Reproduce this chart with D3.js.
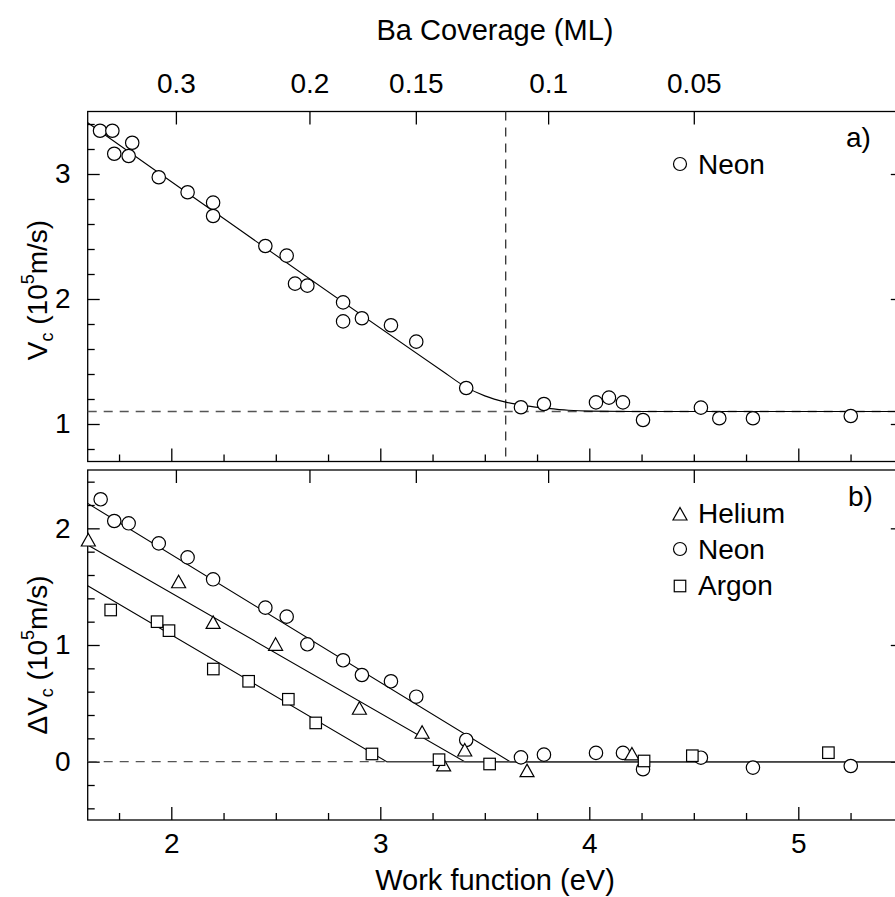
<!DOCTYPE html>
<html><head><meta charset="utf-8">
<script src="https://cdn.jsdelivr.net/npm/d3@7"></script>
<style>
body{margin:0;background:#fff}
text{font-family:"Liberation Sans",Arial,Helvetica,sans-serif;fill:#000}
</style>
</head><body><svg id="c" width="895" height="897"></svg>
<script>
// ---------- data ----------
const xTicks = [2, 3, 4, 5];
const xMinor = [1.75, 2.25, 2.5, 2.75, 3.25, 3.5, 3.75, 4.25, 4.5, 4.75, 5.25];
const coverageLabels = ["0.3", "0.2", "0.15", "0.1", "0.05"];
const coverageWF = [2.022, 2.661, 3.170, 3.803, 4.500];
const yTicksA = [1, 2, 3];
const yMinorA = [0.8, 1.2, 1.4, 1.6, 1.8, 2.2, 2.4, 2.6, 2.8, 3.2, 3.4];
const yTicksB = [0, 1, 2];
const yMinorB = [-0.4, -0.2, 0.2, 0.4, 0.6, 0.8, 1.2, 1.4, 1.6, 1.8, 2.2, 2.4];

// panel a : neon critical velocity
const neonA_wf = [1.659, 1.718, 1.813, 1.727, 1.796, 1.940, 2.078, 2.200, 2.200, 2.450, 2.552, 2.592, 2.651, 2.822, 2.822, 2.912, 3.051, 3.172, 3.411, 3.673, 3.783, 4.032, 4.094, 4.161, 4.257, 4.534, 4.622, 4.783, 5.251];
const neonA_v  = [3.346, 3.346, 3.250, 3.162, 3.144, 2.974, 2.854, 2.771, 2.664, 2.424, 2.347, 2.123, 2.107, 1.973, 1.821, 1.846, 1.790, 1.659, 1.288, 1.134, 1.160, 1.173, 1.211, 1.173, 1.032, 1.131, 1.046, 1.046, 1.064];
const fitA_wf = [1.6, 3.3, 3.4, 3.5, 3.6, 3.7, 3.8, 3.9, 4.0, 4.2, 5.5];
const fitA_v  = [3.41, 1.42, 1.305, 1.225, 1.175, 1.145, 1.125, 1.11, 1.103, 1.1, 1.1];
const vcBase = 1.1;
const wfCrit = 3.6;

// panel b : delta Vc
const neonB_wf = [1.662, 1.727, 1.796, 1.940, 2.078, 2.200, 2.450, 2.552, 2.651, 2.822, 2.912, 3.051, 3.172, 3.411, 3.673, 3.783, 4.032, 4.161, 4.257, 4.534, 4.783, 5.251];
const neonB_dv = [2.249, 2.063, 2.043, 1.871, 1.751, 1.563, 1.320, 1.243, 1.006, 0.869, 0.743, 0.689, 0.557, 0.186, 0.037, 0.060, 0.075, 0.075, -0.065, 0.034, -0.051, -0.037];
const heliumB_wf = [1.603, 2.035, 2.200, 2.499, 2.900, 3.200, 3.404, 3.303, 3.702, 4.204];
const heliumB_dv = [1.900, 1.542, 1.194, 1.006, 0.458, 0.252, 0.100, -0.028, -0.077, 0.066];
const argonB_wf = [1.710, 1.932, 1.989, 2.201, 2.370, 2.560, 2.691, 2.960, 3.281, 3.523, 4.262, 4.493, 5.144];
const argonB_dv = [1.300, 1.200, 1.123, 0.794, 0.689, 0.535, 0.332, 0.066, 0.017, -0.020, 0.006, 0.051, 0.077];
const fitNeon_wf = [1.6, 3.621, 5.5],   fitNeon_dv = [2.214, 0, 0];
const fitHelium_wf = [1.6, 3.404, 5.5], fitHelium_dv = [1.857, 0, 0];
const fitArgon_wf = [1.6, 3.031, 5.5],  fitArgon_dv = [1.508, 0, 0];

// ---------- drawing ----------
const svg = d3.select("#c");
const X0 = 87.7, X1 = 902.8;
const x = d3.scaleLinear().domain([1.6, 5.5]).range([X0, X1]);
const yA = d3.scaleLinear().domain([0.7, 3.5]).range([461.5, 111.5]);
const yB = d3.scaleLinear().domain([-0.5, 2.5]).range([820, 470]);
const FS = 28;

function panel(y, yTicks, yMinor, showTopLabels) {
  const [yb, yt] = y.range();
  const g = svg.append("g");
  g.append("rect").attr("x", X0).attr("y", yt).attr("width", X1 - X0).attr("height", yb - yt)
    .attr("fill", "none").attr("stroke", "#000").attr("stroke-width", 1.3);
  const gb = g.append("g").attr("transform", `translate(0,${yb})`);
  gb.call(d3.axisBottom(x).tickValues(xTicks).tickSize(-13).tickPadding(13)
     .tickFormat(showTopLabels ? () => "" : d3.format("d")));
  gb.append("g").call(d3.axisBottom(x).tickValues(xMinor).tickSize(-7).tickFormat(""));
  const gt = g.append("g").attr("transform", `translate(0,${yt})`);
  gt.call(d3.axisTop(x).tickValues(coverageWF).tickSize(-13).tickPadding(19)
     .tickFormat((d, i) => showTopLabels ? coverageLabels[i] : ""));
  const gl = g.append("g").attr("transform", `translate(${X0},0)`);
  gl.call(d3.axisLeft(y).tickValues(yTicks).tickSize(-12).tickPadding(17).tickFormat(d3.format("d")));
  gl.append("g").call(d3.axisLeft(y).tickValues(yMinor).tickSize(-7).tickFormat(""));
  const gr = g.append("g").attr("transform", `translate(${X1},0)`);
  gr.call(d3.axisRight(y).tickValues(yTicks).tickSize(-12).tickFormat(""));
  g.selectAll(".domain").remove();
  g.selectAll(".tick line").attr("stroke", "#000").attr("stroke-width", 1.3);
  g.selectAll(".tick text").attr("font-size", FS).attr("font-family", '"Liberation Sans",Arial,sans-serif').attr("fill", "#000");
  return g;
}

const gA = panel(yA, yTicksA, yMinorA, true);
const gB = panel(yB, yTicksB, yMinorB, false);

const line = (y) => d3.line().x(d => x(d[0])).y(d => y(d[1]));
const zip = (a, b) => a.map((v, i) => [v, b[i]]);

svg.append("line").attr("x1", X0).attr("x2", X1).attr("y1", yA(vcBase)).attr("y2", yA(vcBase))
  .attr("stroke", "#555").attr("stroke-width", 1.3).attr("stroke-dasharray", "9,7");
svg.append("line").attr("x1", x(wfCrit)).attr("x2", x(wfCrit)).attr("y1", yA(3.5)).attr("y2", yA(0.7))
  .attr("stroke", "#333").attr("stroke-width", 1.3).attr("stroke-dasharray", "9,7");
svg.append("path").datum(zip(fitA_wf, fitA_v)).attr("fill", "none").attr("stroke", "#000").attr("stroke-width", 1.1)
  .attr("d", line(yA).curve(d3.curveMonotoneX));

svg.append("line").attr("x1", X0).attr("x2", x(3.03)).attr("y1", yB(0)).attr("y2", yB(0))
  .attr("stroke", "#555").attr("stroke-width", 1.3).attr("stroke-dasharray", "9,7");
[[fitNeon_wf, fitNeon_dv], [fitHelium_wf, fitHelium_dv], [fitArgon_wf, fitArgon_dv]].forEach(([a, b]) => {
  svg.append("path").datum(zip(a, b)).attr("fill", "none").attr("stroke", "#000").attr("stroke-width", 1.1)
    .attr("d", line(yB));
});
svg.append("line").attr("x1", x(3.03)).attr("x2", X1).attr("y1", yB(0)).attr("y2", yB(0))
  .attr("stroke", "#444").attr("stroke-width", 1.3);

const R = 6.7;
function circles(xs, ys, y) {
  svg.append("g").selectAll("circle").data(zip(xs, ys)).join("circle")
    .attr("cx", d => x(d[0])).attr("cy", d => y(d[1])).attr("r", R)
    .attr("fill", "#fff").attr("stroke", "#000").attr("stroke-width", 1.2);
}
const triPath = (cx, cy) => `M${cx},${cy - 6.5}L${cx + 7},${cy + 6}L${cx - 7},${cy + 6}Z`;
function triangles(xs, ys, y) {
  svg.append("g").selectAll("path").data(zip(xs, ys)).join("path")
    .attr("d", d => triPath(x(d[0]), y(d[1])))
    .attr("fill", "#fff").attr("stroke", "#000").attr("stroke-width", 1.2);
}
const S = 11.5;
function squares(xs, ys, y) {
  svg.append("g").selectAll("rect").data(zip(xs, ys)).join("rect")
    .attr("x", d => x(d[0]) - S / 2).attr("y", d => y(d[1]) - S / 2).attr("width", S).attr("height", S)
    .attr("fill", "#fff").attr("stroke", "#000").attr("stroke-width", 1.2);
}
circles(neonA_wf, neonA_v, yA);
circles(neonB_wf, neonB_dv, yB);
triangles(heliumB_wf, heliumB_dv, yB);
squares(argonB_wf, argonB_dv, yB);

const LF = 28;
svg.append("circle").attr("cx", 680).attr("cy", 164).attr("r", 6.5).attr("fill", "#fff").attr("stroke", "#000").attr("stroke-width", 1.2);
svg.append("text").attr("x", 698).attr("y", 174).attr("font-size", LF).text("Neon");
svg.append("path").attr("d", triPath(680, 514)).attr("fill", "#fff").attr("stroke", "#000").attr("stroke-width", 1.2);
svg.append("text").attr("x", 698).attr("y", 523).attr("font-size", LF).text("Helium");
svg.append("circle").attr("cx", 680).attr("cy", 549).attr("r", 6.5).attr("fill", "#fff").attr("stroke", "#000").attr("stroke-width", 1.2);
svg.append("text").attr("x", 698).attr("y", 559).attr("font-size", LF).text("Neon");
svg.append("rect").attr("x", 680 - S / 2).attr("y", 586 - S / 2).attr("width", S).attr("height", S).attr("fill", "#fff").attr("stroke", "#000").attr("stroke-width", 1.2);
svg.append("text").attr("x", 698).attr("y", 595).attr("font-size", LF).text("Argon");
svg.append("text").attr("x", 846).attr("y", 147).attr("font-size", LF).text("a)");
svg.append("text").attr("x", 848).attr("y", 506).attr("font-size", LF).text("b)");

svg.append("text").attr("x", 495).attr("y", 40).attr("text-anchor", "middle").attr("font-size", 29).text("Ba Coverage (ML)");
svg.append("text").attr("x", 495).attr("y", 890).attr("text-anchor", "middle").attr("font-size", 29).text("Work function (eV)");
function yTitle(cy, prefix) {
  const t = svg.append("text").attr("transform", `translate(47,${cy}) rotate(-90)`).attr("text-anchor", "middle").attr("font-size", FS);
  t.append("tspan").text(prefix + "V");
  t.append("tspan").attr("dy", 6).attr("font-size", 18).text("c");
  t.append("tspan").attr("dy", -6).text(" (10");
  t.append("tspan").attr("dy", -13).attr("font-size", 18).text("5");
  t.append("tspan").attr("dy", 13).text("m/s)");
}
yTitle(290, "");
yTitle(655, "Δ");
</script>
</body></html>
